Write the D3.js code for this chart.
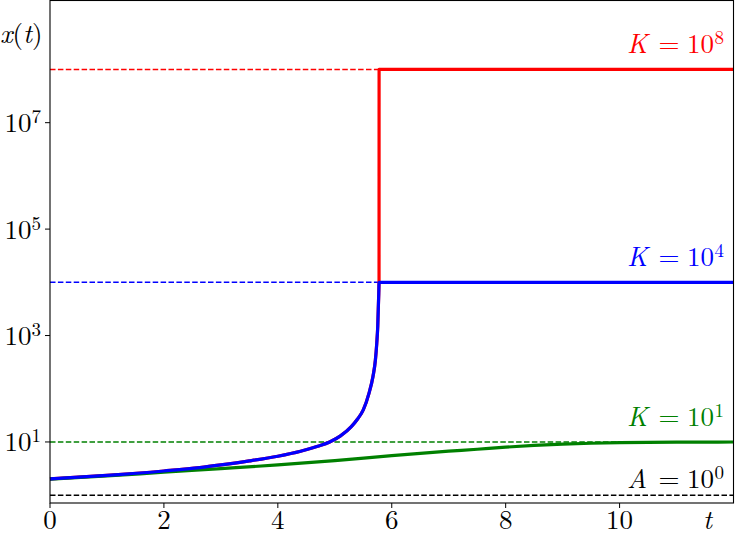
<!DOCTYPE html>
<html>
<head>
<meta charset="utf-8">
<script src="https://cdn.jsdelivr.net/npm/d3@7"></script>
<style>
  html, body { margin: 0; padding: 0; background: #fff; }
  svg { display: block; }
</style>
</head>
<body>
<svg id="chart" width="735" height="535"></svg>
<script>
// ---- data ----
const xTicks = [0, 2, 4, 6, 8, 10];
const yTickExps = [1, 3, 5, 7];

const blueT = [0, 1, 2, 2.63, 3, 3.5, 4, 4.4, 4.7, 4.91, 5.1, 5.29, 5.4, 5.5, 5.6, 5.67, 5.713, 5.737, 5.754, 5.772, 5.777, 12];
const blueX = [2.02, 2.35, 2.85, 3.3, 3.7, 4.4, 5.4, 6.7, 8.3, 10, 13, 19.4, 27, 40, 82, 169, 347, 716, 1480, 6200, 10000, 10000];

const redT = [0, 1, 2, 2.63, 3, 3.5, 4, 4.4, 4.7, 4.91, 5.1, 5.29, 5.4, 5.5, 5.6, 5.67, 5.713, 5.737, 5.754, 5.772, 5.777, 5.778, 12];
const redX = [2.02, 2.35, 2.85, 3.3, 3.7, 4.4, 5.4, 6.7, 8.3, 10, 13, 19.4, 27, 40, 82, 169, 347, 716, 1480, 6200, 10000, 1e8, 1e8];

const greenT = [0, 1, 2, 3, 4, 5, 6, 7, 7.5, 8, 8.5, 9, 9.5, 10, 11, 12];
const greenX = [2.0, 2.3, 2.7, 3.15, 3.7, 4.45, 5.55, 6.7, 7.3, 8.0, 8.6, 9.1, 9.45, 9.7, 9.92, 9.98];

const refValues = [1e8, 1e4, 1e1, 1e0];
const refNames = ["K", "K", "K", "A"];
const refExps = ["8", "4", "1", "0"];

// ---- styles ----
const refColors = ["#ff0000", "#0000ff", "#008000", "#000000"];
const FONT = '"Latin Modern Roman", "Liberation Serif", serif';

const svg = d3.select("#chart");
const L = 50, R = 733.5, T = 0.5, B = 503;

const x = d3.scaleLinear().domain([0, 12]).range([L, R]);
const y = d3.scaleLog().domain([Math.pow(10, -0.147), Math.pow(10, 9.296)]).range([B, T]);

const FS = 27;

// dashed reference lines
refValues.forEach((v, i) => {
  svg.append("line")
    .attr("x1", x(0)).attr("x2", x(12))
    .attr("y1", y(v)).attr("y2", y(v))
    .attr("stroke", refColors[i])
    .attr("stroke-width", 1.5)
    .attr("stroke-dasharray", "5.5,2.4");
});

const line = d3.line().x(d => x(d[0])).y(d => y(d[1])).curve(d3.curveMonotoneX);
function drawSeries(ts, xs, color) {
  svg.append("path")
    .datum(ts.map((t, i) => [t, xs[i]]))
    .attr("d", line)
    .attr("fill", "none")
    .attr("stroke", color)
    .attr("stroke-width", 3.2)
    .attr("stroke-linejoin", "round");
}
drawSeries(redT, redX, "#ff0000");
drawSeries(greenT, greenX, "#008000");
drawSeries(blueT, blueX, "#0000ff");

// frame
svg.append("rect")
  .attr("x", L).attr("y", T)
  .attr("width", R - L).attr("height", B - T)
  .attr("fill", "none").attr("stroke", "#000").attr("stroke-width", 1.1);

// x ticks
const gx = svg.append("g");
xTicks.forEach(t => {
  gx.append("line").attr("x1", x(t)).attr("x2", x(t)).attr("y1", B).attr("y2", B + 5)
    .attr("stroke", "#000").attr("stroke-width", 1);
  gx.append("text").attr("x", x(t)).attr("y", 529)
    .style("font-family", FONT)
    .attr("text-anchor", "middle").attr("font-size", FS).attr("fill", "#000")
    .text(t);
});

// y ticks
const gy = svg.append("g");
yTickExps.forEach(e => {
  const yy = y(Math.pow(10, e));
  gy.append("line").attr("x1", L - 5).attr("x2", L).attr("y1", yy).attr("y2", yy)
    .attr("stroke", "#000").attr("stroke-width", 1);
  const tx = gy.append("text").attr("x", 41).attr("y", yy + 9.5)
    .style("font-family", FONT)
    .attr("text-anchor", "end").attr("font-size", FS).attr("fill", "#000");
  tx.append("tspan").text("10");
  tx.append("tspan").attr("font-size", 19).attr("dy", -9).text(e);
});

// axis labels
const yl = svg.append("text").attr("x", 0).attr("y", 43).attr("font-size", FS)
  .style("font-family", FONT).attr("fill", "#000");
yl.append("tspan").attr("font-style", "italic").text("x");
yl.append("tspan").text("(");
yl.append("tspan").attr("font-style", "italic").text("t");
yl.append("tspan").text(")");

svg.append("text").attr("x", 703).attr("y", 529).attr("font-size", FS)
  .style("font-family", FONT)
  .attr("font-style", "italic").attr("fill", "#000").text("t");

// annotations
refValues.forEach((v, i) => {
  const base = y(v) - (refNames[i] === "A" ? 7 : 16);
  const c = refColors[i];
  const g = svg.append("text").attr("y", base).attr("font-size", FS)
    .style("font-family", FONT).attr("fill", c);
  g.append("tspan").attr("x", 627).attr("font-style", "italic").text(refNames[i]);
  g.append("tspan").attr("x", 658.5).text("=");
  g.append("tspan").attr("x", 687).text("10");
  g.append("tspan").attr("x", 714.5).attr("font-size", 19).attr("dy", -9).text(refExps[i]);
});
</script>
</body>
</html>
